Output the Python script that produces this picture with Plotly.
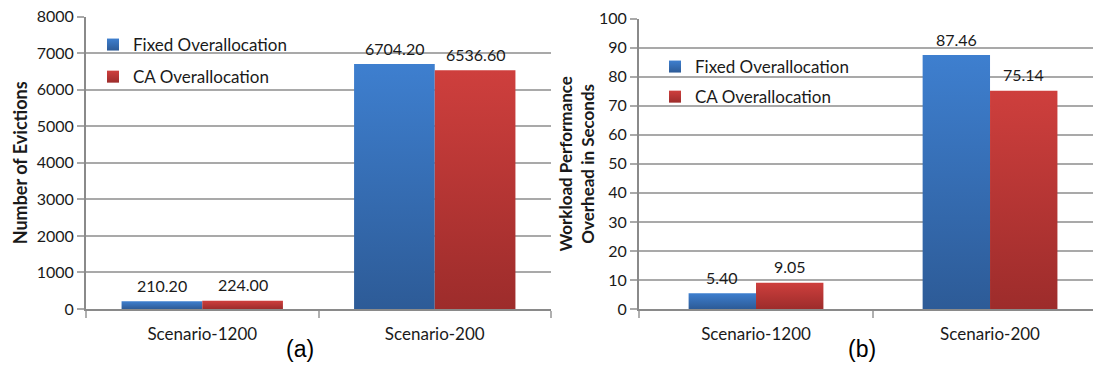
import plotly.graph_objects as go

# ---- data ---------------------------------------------------------------
categories = ["Scenario-1200", "Scenario-200"]
series_names = ["Fixed Overallocation", "CA Overallocation"]

evictions_fixed = [210.20, 6704.20]
evictions_ca = [224.00, 6536.60]

overhead_fixed = [5.40, 87.46]
overhead_ca = [9.05, 75.14]

evictions_ticks = [0, 1000, 2000, 3000, 4000, 5000, 6000, 7000, 8000]
overhead_ticks = [0, 10, 20, 30, 40, 50, 60, 70, 80, 90, 100]

panel_labels = ["(a)", "(b)"]

# ---- style --------------------------------------------------------------
FONT = "Lato"
TEXT = "#1a1a1a"
GRID = "#a9a9a9"
AXIS = "#8a8a8a"
# (bottom, top) colours of the vertical gradient on each bar
BLUE = ("#2d5b97", "#3e7fcf")
RED = ("#9d2c2b", "#ce3f3d")
SERIES_COLORS = [BLUE, RED]

W, H = 1093, 365
M_L, M_R, M_T, M_B = 86, 0, 16, 56
PW = W - M_L - M_R

fig = go.Figure()


def add_panel(values_by_series, xa, ya, bar_width, legend_name, fmt):
    """Gradient bars (one polygon per bar) plus value labels."""
    for s, (name, vals) in enumerate(zip(series_names, values_by_series)):
        bottom, top = SERIES_COLORS[s]
        offset = -bar_width if s == 0 else 0.0
        for i, v in enumerate(vals):
            x0 = i + offset
            x1 = x0 + bar_width
            fig.add_trace(go.Scatter(
                x=[x0, x0, x1, x1, x0],
                y=[0, v, v, 0, 0],
                mode="lines",
                fill="toself",
                line=dict(width=0, color=top),
                fillgradient=dict(type="vertical",
                                  colorscale=[[0, bottom], [1, top]]),
                xaxis=xa, yaxis=ya,
                showlegend=False,
                hoverinfo="skip",
            ))
            fig.add_annotation(
                x=(x0 + x1) / 2, y=v, xref=xa, yref=ya,
                text=fmt.format(v), showarrow=False,
                yanchor="middle", yshift=16,
                font=dict(family=FONT, size=16, color=TEXT),
            )
        # legend entry for the series
        fig.add_trace(go.Scatter(
            x=[None], y=[None], mode="markers", name=name,
            marker=dict(symbol="square", size=12, color=top,
                        gradient=dict(type="vertical", color=bottom),
                        line=dict(width=0)),
            legend=legend_name, legendgroup=legend_name + str(s),
            xaxis=xa, yaxis=ya,
        ))


add_panel([evictions_fixed, evictions_ca], "x", "y", 0.347, "legend", "{:.2f}")
add_panel([overhead_fixed, overhead_ca], "x2", "y2", 0.288, "legend2", "{:.2f}")


def clamp(v):
    return min(1.0, max(0.0, v))


def px_x(p):
    return (p - M_L) / PW


def px_y(p):
    return (H - M_B - p) / (H - M_T - M_B)


common_x = dict(
    tickmode="array", tickvals=[0, 1], ticktext=categories,
    ticks="", showgrid=False, zeroline=False,
    showline=True, linecolor=AXIS, linewidth=2,
    tickfont=dict(family=FONT, size=17, color=TEXT),
    ticklabelstandoff=9,
    minor=dict(tickmode="linear", tick0=0.5, dtick=1, ticks="outside",
               ticklen=7, tickwidth=2, tickcolor="#b0b0b0", showgrid=False),
    fixedrange=True,
)
common_y = dict(
    tickmode="array", ticks="outside", ticklen=7, tickwidth=2,
    tickcolor=GRID, showgrid=True, gridcolor=GRID, gridwidth=2,
    zeroline=False, showline=True, linecolor=AXIS, linewidth=2,
    tickfont=dict(family=FONT, size=16, color=TEXT),
    automargin=False, fixedrange=True,
)

fig.update_layout(
    width=W, height=H,
    margin=dict(l=M_L, r=M_R, t=M_T, b=M_B),
    paper_bgcolor="white", plot_bgcolor="white",
    font=dict(family=FONT, color=TEXT),
    xaxis=dict(common_x, domain=[clamp(px_x(86)), clamp(px_x(551))],
               range=[-0.5, 1.5], anchor="y"),
    yaxis=dict(common_y, domain=[clamp(px_y(309)), clamp(px_y(16.7))],
               range=[0, 8000], tickvals=evictions_ticks, anchor="x",
               title=dict(text="<b>Number of Evictions</b>", standoff=4,
                          font=dict(family=FONT, size=18, color=TEXT))),
    xaxis2=dict(common_x, domain=[clamp(px_x(639)), 1.0],
                range=[-0.5, 1.44], anchor="y2"),
    yaxis2=dict(common_y, domain=[clamp(px_y(309.3)), clamp(px_y(18.7))],
                range=[0, 100], tickvals=overhead_ticks, anchor="x2",
                title=dict(text="<b>Workload Performance<br>Overhead in Seconds</b>",
                           standoff=0,
                           font=dict(family=FONT, size=17, color=TEXT))),
    legend=dict(x=px_x(93), y=px_y(27), xanchor="left", yanchor="top",
                bgcolor="rgba(0,0,0,0)", tracegroupgap=7,
                font=dict(family=FONT, size=17, color=TEXT)),
    legend2=dict(x=px_x(655), y=px_y(49), xanchor="left", yanchor="top",
                 bgcolor="rgba(0,0,0,0)", tracegroupgap=5,
                 font=dict(family=FONT, size=17, color=TEXT)),
    showlegend=True,
)

for label, cx in zip(panel_labels, [300, 862]):
    fig.add_annotation(
        x=px_x(cx), y=px_y(349), xref="paper", yref="paper",
        text=label, showarrow=False, xanchor="center", yanchor="middle",
        font=dict(family="Liberation Sans", size=23, color="#000000"),
    )

fig.write_html("out.html")
